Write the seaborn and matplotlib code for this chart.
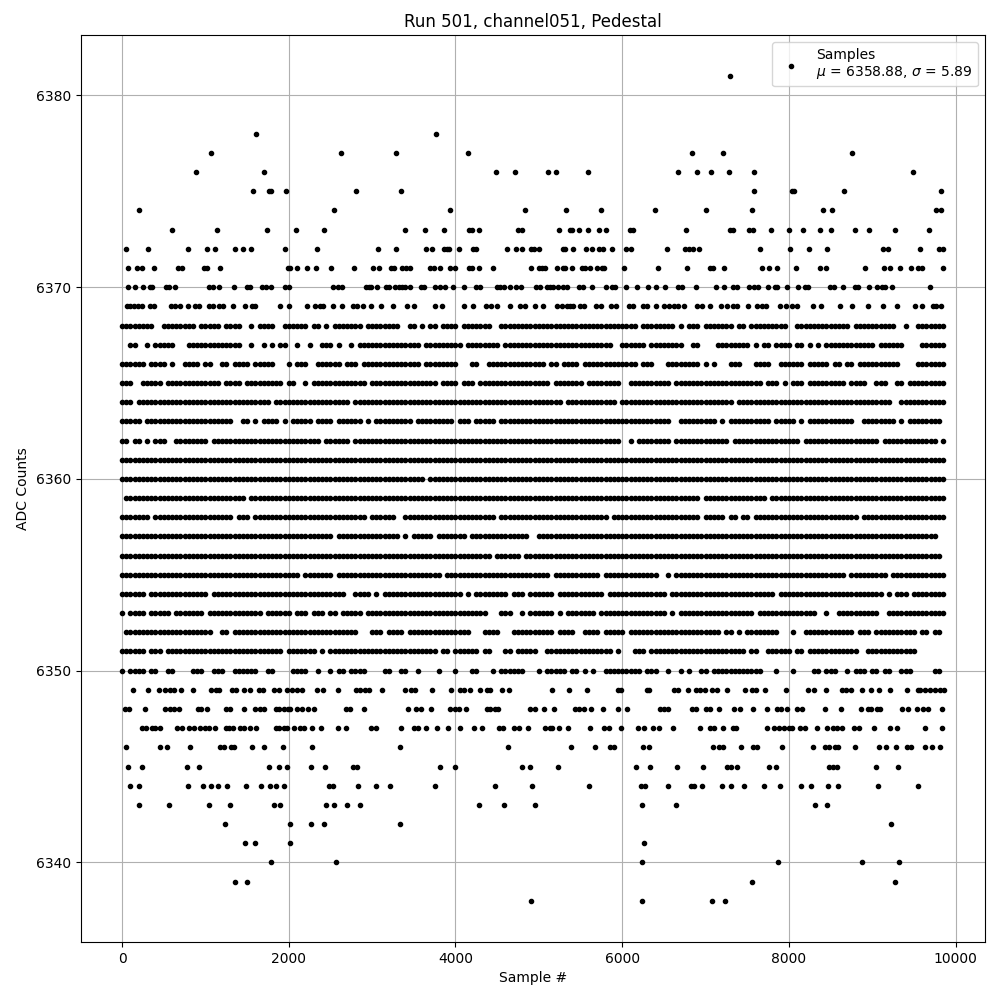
import numpy as np
import pandas as pd
import matplotlib
matplotlib.use("Agg")
import matplotlib.pyplot as plt
import seaborn as sns

# ADC levels that are too busy to list sample by sample: each row is read off the
# picture as occupancy per 50 samples, in groups of 1000 samples ('#' = a dot is there)
BIN_SAMPLES = 50

busy_levels = [6368, 6367, 6366, 6365, 6364, 6363, 6362, 6361, 6360, 6359,
               6358, 6357, 6356, 6355, 6354, 6353, 6352, 6351, 6350]
busy_rows = [
    "########..########.# ####.####..#.####..# #####.##.#.#######.# #######..##.#.##.### #.#######..######### #################### ####.########.#.###. #######.##.######### ..#############.#### ######..#..#######..",
    "..##..#.#####...#### #########..#..#.#.## ..#..#..###.#..#.### ############.####### ##.########.######## ##################.. ######.########..##. ...########.#.##.### #.##.#.#.########### #.######....######..",
    "######.####.#..####. ##..##.####.#####... #.###..######.###.## ############.####### #...##..############ ##.##.####.######### ####.###...########. #.#...###...####..## ####.#####.##.##.### #######....#######..",
    "###..#####.######### ####.####.#########. ##..#.#############. ################.### #.###.############## ###.#######.######## ..##########.####### ##############.###.# .###.#########.####. .###..##.#########..",
    "###.################ ################.### ###############.#### #################### #################### ######.############. #################### #######.############ #################### #####..###########..",
    "#####.############## #######..##.#.####.# .#####.####.######.# .#########.######### .###.#####.######### #################### ############..###### ###.#.##########.### ##.#.###########..## ######.#.########...",
    "##.##.#.###..####### #.################## ########.######.#### #################### #################### #################### ..#.########.####### ######.############# ###.################ ##.#############.#..",
    "#################### #################### #################### #################### #################### #################### #################### #################### #################### ##################..",
    "#################### #################### #################### #############.###### #################### #################### #################### #################### #################### ##################..",
    ".################### ##########.######### #################### #################### #################### #################### ###################. ###############.#### #################### ##################..",
    "#######.############ #######.###.######## ###################. ######..############ ##########.######### #################.## ###################. #####.##.##.######## #################.## ##################..",
    "#################### #################### ###########.######## #######.#.#####.#### ###.##############.. #################### #################### #################### #################### ################....",
    "#################### #################### #################### #################### #########.######.### #################### #################### #################### #################### #################...",
    "#################### #################### ###.#######.######## #################.## #################### ###.###########.#### #########..#.####### #################### ##############.##### ####.#############..",
    "######.############# #.################## ##############..#### .#.################# ##.#.########.###.## ####.###########.### ###########.######## #################.## #################### ###.#.###.########..",
    "#.####.#####.####### .#############.##### #.###.###.##.#####.# #################### ########...###..#.## ####.#.#######.##### ###########.#.###### ############.####### #######..#..######## ##..##############..",
    ".################### ##..##.############# #################... ###.####.########### ####...####...###### ####.####..####.#### #.################## ####.##.#.########.. .#..############.### .##########.##.##...",
    "######.###.######### ###################. #######.#.########## ################.##. ######.##...##.##### ..################.# ...###.############# ##########.##..##### #.##.############..# ###########.........",
    "#.####.##..##....### ..###..######..##... .####..#..#.##.####. ...##..##..#....#... #...##...#.######... #.#####.##.#.#..#### #####.###..#..#.#..# #.############...#.. .#....##.###..#.###. ##.##..###.....##...",
]

# sparse levels, sample numbers read dot by dot
level_6381 = [7296]
level_6378 = [1604, 3764]
level_6377 = [1064, 2624, 3284, 4148, 6840, 7212, 8760]
level_6376 = [884, 1700, 4484, 4712, 5112, 5208, 5592, 6672, 6900, 7068, 7284, 7584, 9492]
level_6375 = [1568, 1760, 1792, 1964, 2804, 3344, 7584, 8040, 8056, 8664, 9828]
level_6374 = [200, 2540, 3932, 4832, 5328, 5748, 6396, 7008, 7560, 8412, 8520, 9768, 9828]
level_6373 = [596, 1136, 1736, 2084, 2420, 3392, 3632, 3860, 4160, 4200, 4280, 4748, 4800,
              5244, 5376, 5400, 5484, 5592, 5724, 5808, 6092, 6132, 6768, 7292, 7324, 7524,
              7564, 7788, 8004, 8172, 8376, 8508, 8796, 8964, 9276, 9684]
level_6372 = [48, 308, 788, 1016, 1112, 1352, 1448, 1544, 1952, 2336, 3068, 3284, 3644, 3716,
              3868, 3900, 3920, 4048, 4212, 4248, 4616, 4724, 4796, 4904, 4940, 5004, 5284,
              5312, 5412, 5568, 5640, 5724, 5772, 5880, 6048, 6100, 6540, 6752, 6800, 6852,
              6924, 7656, 8016, 8244, 8460, 9132, 9192, 9576, 9804, 9852]
level_6371 = [68, 176, 240, 380, 668, 720, 980, 1020, 1172, 1992, 2012, 2096, 2216, 2324, 2504,
              2780, 3008, 3080, 3224, 3264, 3360, 3412, 3452, 3692, 3740, 3812, 3940, 3992,
              4160, 4200, 4280, 4448, 4904, 5000, 5040, 5072, 5212, 5284, 5312, 5400, 5512,
              5552, 5616, 5692, 5752, 5780, 6024, 6432, 6780, 7052, 7084, 7224, 7680, 7764,
              7860, 8088, 8376, 8448, 8916, 9144, 9212, 9336, 9468, 9552, 9592, 9852]
level_6370 = [68, 152, 248, 332, 360, 528, 560, 632, 1040, 1092, 1160, 1340, 1500, 1532, 1676,
              1728, 1788, 1960, 2000, 2532, 2588, 2640, 2928, 2960, 2988, 3056, 3164, 3208,
              3272, 3320, 3360, 3392, 3452, 3588, 3628, 3752, 3820, 3872, 3972, 4104, 4248,
              4300, 4500, 4540, 4584, 4656, 4732, 4788, 4964, 5012, 5092, 5132, 5172, 5232,
              5292, 5340, 5484, 5532, 5640, 5804, 5872, 5912, 6040, 6180, 6312, 6408, 6512,
              6672, 6712, 6888, 7128, 7224, 7332, 7380, 7524, 7584, 7632, 7744, 7832, 7860,
              7972, 8112, 8192, 8232, 8492, 8540, 8652, 8792, 8832, 8964, 9060, 9112, 9152,
              9240, 9696]
level_6369 = [60, 100, 140, 188, 240, 340, 380, 588, 640, 700, 788, 880, 924, 1040, 1092, 1160,
              1212, 1328, 1476, 1564, 1596, 1892, 2000, 2216, 2320, 2372, 2412, 2536, 2640,
              2768, 2820, 2892, 2988, 3104, 3248, 3420, 3500, 3756, 3836, 4100, 4212, 4372,
              4428, 4500, 4652, 4772, 4840, 4948, 5052, 5212, 5272, 5340, 5372, 5412, 5492,
              5544, 5680, 5740, 5864, 5920, 6076, 6132, 6244, 6300, 6408, 6504, 6564, 6620,
              6672, 6740, 6892, 6952, 7056, 7180, 7252, 7332, 7380, 7508, 7612, 7672, 7724,
              7888, 7964, 8032, 8092, 8292, 8388, 8612, 8752, 8952, 9132, 9300, 9512, 9600,
              9724, 9764, 9828]
level_6349 = [128, 308, 440, 512, 572, 628, 708, 848, 1064, 1128, 1168, 1316, 1368, 1460, 1532,
              1640, 1692, 1820, 1880, 1976, 2040, 2100, 2160, 2336, 2408, 2588, 2804, 2860,
              2920, 2960, 3116, 3392, 3464, 3516, 3724, 3944, 4052, 4104, 4172, 4296, 4380,
              4420, 4556, 4640, 5160, 5364, 5580, 5944, 5980, 6292, 6320, 6624, 6672, 6792,
              6884, 6932, 6992, 7072, 7132, 7260, 7476, 7552, 7604, 7716, 7968, 8232, 8304,
              8448, 8640, 8684, 8748, 8880, 8988, 9084, 9216, 9420, 9544, 9572, 9636, 9692,
              9752, 9812, 9860]
level_6348 = [32, 84, 272, 512, 572, 628, 680, 912, 948, 1020, 1244, 1300, 1460, 1592, 1652,
              1704, 1844, 1880, 1940, 1988, 2020, 2100, 2160, 2228, 2300, 2684, 2740, 2900,
              3428, 3532, 3588, 3704, 3940, 3992, 4044, 4124, 4380, 4420, 4480, 4508, 4900,
              4952, 5060, 5184, 5436, 5484, 5544, 5628, 5772, 5952, 6052, 6456, 6504, 6552,
              6840, 6880, 7000, 7052, 7164, 7344, 7416, 7572, 7740, 7860, 7900, 7980, 8092,
              8152, 8428, 8628, 8868, 8952, 8984, 9052, 9092, 9360, 9432, 9532, 9612, 9672,
              9832]
level_6347 = [244, 284, 360, 392, 452, 660, 720, 800, 860, 940, 1000, 1040, 1120, 1244, 1280,
              1328, 1412, 1460, 1532, 1604, 1844, 1880, 1940, 1980, 2060, 2140, 2188, 2276,
              2388, 2588, 2692, 2984, 3044, 3344, 3500, 3552, 3644, 3776, 3908, 4052, 4220,
              4316, 4520, 4572, 4700, 4760, 4868, 5072, 5132, 5156, 5244, 5352, 5616, 5780,
              5844, 5988, 6192, 6264, 6372, 6444, 6612, 6936, 7052, 7104, 7212, 7332, 7364,
              7740, 7824, 7884, 7944, 8004, 8032, 8136, 8196, 8332, 8460, 8532, 8572, 8640,
              8784, 8844, 9024, 9216, 9300, 9636, 9840]
level_6346 = [48, 460, 536, 812, 1172, 1228, 1308, 1348, 1560, 1700, 1932, 2276, 3332, 4636,
              5388, 5676, 5856, 5904, 6252, 6324, 7092, 7160, 7204, 7428, 7572, 7620, 7920,
              8292, 8432, 8480, 8556, 8588, 8796, 9080, 9168, 9288, 9420, 9468, 9636, 9712,
              9816]
level_6345 = [68, 236, 776, 920, 1760, 1884, 1984, 2264, 2432, 2768, 2820, 3812, 3992, 4796,
              4892, 5232, 6168, 6336, 6660, 6972, 7260, 7304, 7380, 7764, 7844, 8484, 8532,
              8580, 9048, 9312]
level_6344 = [92, 200, 788, 968, 1064, 1148, 1256, 1484, 1664, 1772, 1844, 1940, 2480, 2528,
              2828, 3044, 3212, 3752, 4472, 4916, 5604, 6228, 6276, 6552, 6828, 6864, 6960,
              7200, 7308, 7464, 7704, 7896, 8148, 8268, 8472, 8592, 9072, 9552]
level_6343 = [200, 560, 1040, 1292, 1828, 1896, 2444, 2540, 2696, 2852, 4280, 4580, 4952, 6240,
              6648, 8316, 8460]
level_6342 = [1232, 2012, 2264, 2420, 3332, 9228]
level_6341 = [1472, 1592, 2012, 6264]
level_6340 = [1784, 2564, 6240, 7872, 8880, 9324]
level_6339 = [1352, 1496, 7560, 9276]
level_6338 = [4904, 6240, 7080, 7236]

sparse_levels = {
    6381: level_6381, 6378: level_6378, 6377: level_6377, 6376: level_6376, 6375: level_6375,
    6374: level_6374, 6373: level_6373, 6372: level_6372, 6371: level_6371, 6370: level_6370,
    6369: level_6369, 6349: level_6349, 6348: level_6348, 6347: level_6347, 6346: level_6346,
    6345: level_6345, 6344: level_6344, 6343: level_6343, 6342: level_6342, 6341: level_6341,
    6340: level_6340, 6339: level_6339, 6338: level_6338,
}

samples = []
counts = []
for level, row in zip(busy_levels, busy_rows):
    for g, group in enumerate(row.split()):
        for j, ch in enumerate(group):
            if ch == "#":
                samples.append((g * 20 + j) * BIN_SAMPLES)
                counts.append(level)
for level, xs in sparse_levels.items():
    samples.extend(xs)
    counts.extend([level] * len(xs))

df = pd.DataFrame({"sample": samples, "adc": counts})

fig, ax = plt.subplots(figsize=(10, 10), dpi=100)
sns.scatterplot(data=df, x="sample", y="adc", marker=".", s=36, color="black",
                edgecolor="black", linewidth=1.0, zorder=2, ax=ax,
                label="Samples\n$\\mu$ = 6358.88, $\\sigma$ = 5.89")
ax.grid(True)
ax.set_title("Run 501, channel051, Pedestal")
ax.set_xlabel("Sample #")
ax.set_ylabel("ADC Counts")
ax.ticklabel_format(axis="y", useOffset=False, style="plain")
ax.legend(loc="upper right")
fig.subplots_adjust(left=0.081, right=0.985, top=0.965, bottom=0.058)
fig.savefig("out.png", dpi=100)
